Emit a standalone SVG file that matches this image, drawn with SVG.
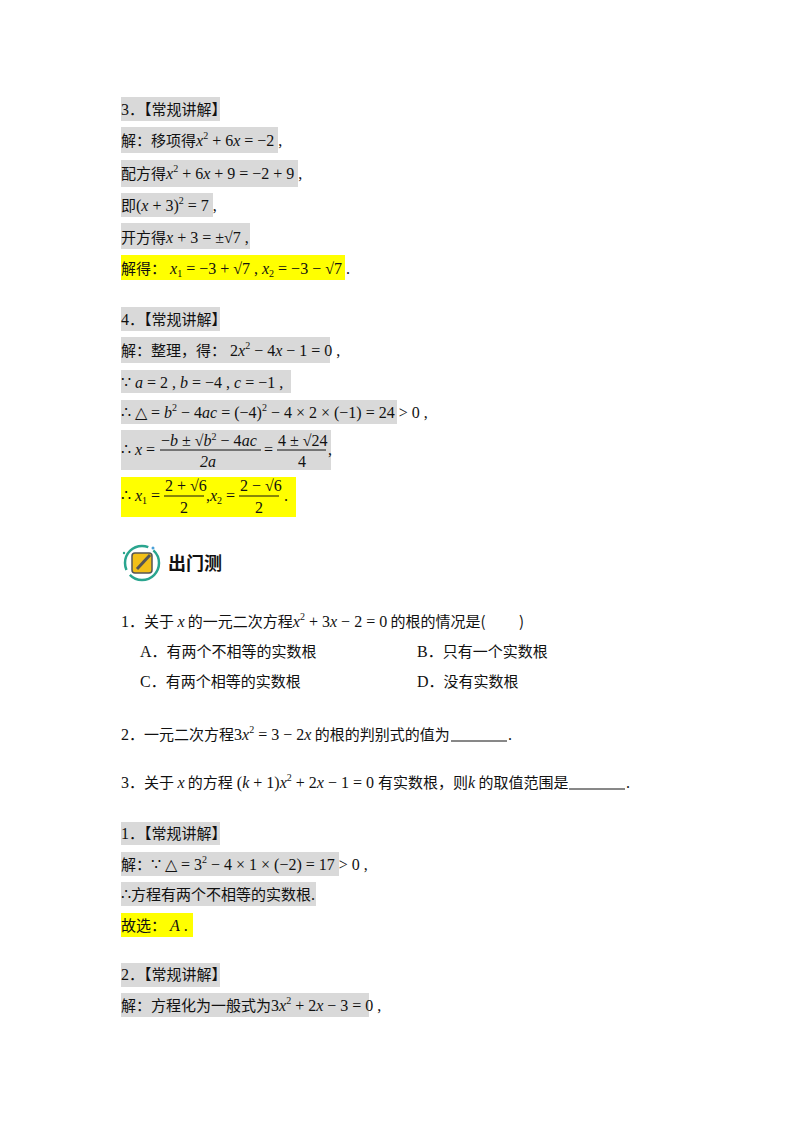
<svg xmlns="http://www.w3.org/2000/svg" width="800" height="1132" viewBox="0 0 800 1132">
<style>
.g{fill:#d9d9d9}.y{fill:#ffff00}
text{font-family:"Noto Sans CJK SC","Noto Sans",sans-serif;font-size:15px;fill:#111}
.m{font-family:"Liberation Serif",serif;font-size:16px}
.i{font-style:italic}
.s{font-size:10px}
.h{font-weight:bold;font-size:18px}
.u{stroke:#111;stroke-width:1}
</style>
<rect width="800" height="1132" fill="#fff"/>
<g id="sol3">
<rect class="g" x="121" y="97" width="99" height="24"/>
<rect class="g" x="121" y="127" width="157" height="26"/>
<rect class="g" x="121" y="160" width="177" height="27"/>
<rect class="g" x="121" y="193" width="92" height="24"/>
<rect class="g" x="121" y="223" width="129" height="26"/>
<rect class="y" x="121" y="255" width="224" height="25"/>
<text x="121" y="115"><tspan class="m">3</tspan>．【常规讲解】</text>
<text x="121" y="146">解：移项得<tspan class="m"><tspan class="i">x</tspan><tspan class="s" dy="-7">2</tspan><tspan dy="7"> + 6</tspan><tspan class="i">x</tspan> = −2 ,</tspan></text>
<text x="121" y="179">配方得<tspan class="m"><tspan class="i">x</tspan><tspan class="s" dy="-7">2</tspan><tspan dy="7"> + 6</tspan><tspan class="i">x</tspan> + 9 = −2 + 9 ,</tspan></text>
<text x="121" y="211">即<tspan class="m">(<tspan class="i">x</tspan> + 3)<tspan class="s" dy="-7">2</tspan><tspan dy="7"> = 7 ,</tspan></tspan></text>
<text x="121" y="243">开方得<tspan class="m"><tspan class="i">x</tspan> + 3 = ±√7 ,</tspan></text>
<text x="121" y="274">解得：<tspan class="m"> <tspan class="i">x</tspan><tspan class="s" dy="3">1</tspan><tspan dy="-3"> = −3 + √7 ,  </tspan><tspan class="i">x</tspan><tspan class="s" dy="3">2</tspan><tspan dy="-3"> = −3 − √7 .</tspan></tspan></text>
</g>
<g id="sol4">
<rect class="g" x="121" y="307" width="99" height="24"/>
<rect class="g" x="121" y="337" width="209" height="26"/>
<rect class="g" x="121" y="370" width="170" height="23"/>
<rect class="g" x="121" y="400" width="276" height="24"/>
<rect class="g" x="121" y="430" width="210" height="40"/>
<rect class="y" x="121" y="477" width="175" height="40"/>
<text x="121" y="325"><tspan class="m">4</tspan>．【常规讲解】</text>
<text x="121" y="356">解：整理，得：<tspan class="m"> 2<tspan class="i">x</tspan><tspan class="s" dy="-7">2</tspan><tspan dy="7"> − 4</tspan><tspan class="i">x</tspan> − 1 = 0 ,</tspan></text>
<text class="m" x="121" y="388">∵ <tspan class="i">a</tspan> = 2 ,  <tspan class="i">b</tspan> = −4 ,  <tspan class="i">c</tspan> = −1 ,</text>
<text class="m" x="121" y="418">∴ △ = <tspan class="i">b</tspan><tspan class="s" dy="-7">2</tspan><tspan dy="7"> − 4</tspan><tspan class="i">ac</tspan> = (−4)<tspan class="s" dy="-7">2</tspan><tspan dy="7"> − 4 × 2 × (−1) = 24 &gt; 0 ,</tspan></text>
<text class="m" x="121" y="455">∴ <tspan class="i">x</tspan> =</text>
<text class="m" x="161" y="446">−<tspan class="i">b</tspan> ± √<tspan class="i">b</tspan><tspan class="s" dy="-6">2</tspan><tspan dy="6"> − 4</tspan><tspan class="i">ac</tspan></text>
<line x1="160" y1="450" x2="261" y2="450" stroke="#111"/>
<text class="m i" x="200" y="467">2a</text>
<text class="m" x="264" y="455">=</text>
<text class="m" x="278" y="446">4 ± √24</text>
<line x1="277" y1="450" x2="326" y2="450" stroke="#111"/>
<text class="m" x="298" y="467">4</text>
<text class="m" x="328" y="455">,</text>
<text class="m" x="121" y="501">∴ <tspan class="i">x</tspan><tspan class="s" dy="3">1</tspan><tspan dy="-3"> =</tspan></text>
<text class="m" x="165" y="491">2 + √6</text>
<line x1="164" y1="496" x2="204" y2="496" stroke="#111"/>
<text class="m" x="180" y="513">2</text>
<text class="m" x="206" y="501">,<tspan class="i">x</tspan><tspan class="s" dy="3">2</tspan><tspan dy="-3"> =</tspan></text>
<text class="m" x="240" y="491">2 − √6</text>
<line x1="239" y1="496" x2="279" y2="496" stroke="#111"/>
<text class="m" x="255" y="513">2</text>
<text class="m" x="284" y="501">.</text>
</g>
<g id="header">
<circle cx="142" cy="563" r="17" fill="none" stroke="#2aa58f" stroke-width="2.5" stroke-dasharray="40 6"/>
<rect x="132" y="553" width="20" height="20" rx="3" fill="#f2c018" stroke="#555" stroke-width="1.5"/>
<line x1="137" y1="569" x2="150" y2="555" stroke="#555" stroke-width="3"/>
<circle cx="153" cy="548" r="1.5" fill="#4aa0d8"/>
<circle cx="124" cy="553" r="1.2" fill="#2aa58f"/>
<circle cx="159" cy="565" r="1" fill="#2aa58f"/>
<text class="h" x="168" y="570">出门测</text>
</g>
<g id="questions">
<text x="121" y="627"><tspan class="m">1</tspan>．关于 <tspan class="m i">x</tspan> 的一元二次方程<tspan class="m"><tspan class="i">x</tspan><tspan class="s" dy="-7">2</tspan><tspan dy="7"> + 3</tspan><tspan class="i">x</tspan> − 2 = 0</tspan> 的根的情况是(　　 )</text>
<text x="140" y="657"><tspan class="m">A</tspan>．有两个不相等的实数根</text>
<text x="417" y="657"><tspan class="m">B</tspan>．只有一个实数根</text>
<text x="140" y="687"><tspan class="m">C</tspan>．有两个相等的实数根</text>
<text x="417" y="687"><tspan class="m">D</tspan>．没有实数根</text>
<text x="121" y="740"><tspan class="m">2</tspan>．一元二次方程<tspan class="m">3<tspan class="i">x</tspan><tspan class="s" dy="-7">2</tspan><tspan dy="7"> = 3 − 2</tspan><tspan class="i">x</tspan></tspan> 的根的判别式的值为</text>
<line class="u" x1="451" y1="741" x2="507" y2="741"/>
<text class="m" x="508" y="740">.</text>
<text x="121" y="788"><tspan class="m">3</tspan>．关于 <tspan class="m i">x</tspan> 的方程<tspan class="m"> (<tspan class="i">k</tspan> + 1)<tspan class="i">x</tspan><tspan class="s" dy="-7">2</tspan><tspan dy="7"> + 2</tspan><tspan class="i">x</tspan> − 1 = 0 </tspan>有实数根，则<tspan class="m i">k</tspan> 的取值范围是</text>
<line class="u" x1="569" y1="789" x2="625" y2="789"/>
<text class="m" x="626" y="788">.</text>
</g>
<g id="answers">
<rect class="g" x="121" y="822" width="99" height="23"/>
<rect class="g" x="121" y="852" width="218" height="24"/>
<rect class="g" x="121" y="882" width="195" height="24"/>
<rect class="y" x="121" y="913" width="72" height="24"/>
<rect class="g" x="121" y="963" width="99" height="24"/>
<rect class="g" x="121" y="993" width="248" height="24"/>
<text x="121" y="839"><tspan class="m">1</tspan>．【常规讲解】</text>
<text x="121" y="870">解：<tspan class="m">∵ △ = 3<tspan class="s" dy="-7">2</tspan><tspan dy="7"> − 4 × 1 × (−2) = 17 &gt; 0 ,</tspan></tspan></text>
<text x="121" y="900"><tspan class="m">∴</tspan>方程有两个不相等的实数根<tspan class="m">.</tspan></text>
<text x="121" y="931">故选：<tspan class="m"> <tspan class="i">A</tspan> .</tspan></text>
<text x="121" y="980"><tspan class="m">2</tspan>．【常规讲解】</text>
<text x="121" y="1011">解：方程化为一般式为<tspan class="m">3<tspan class="i">x</tspan><tspan class="s" dy="-7">2</tspan><tspan dy="7"> + 2</tspan><tspan class="i">x</tspan> − 3 = 0 ,</tspan></text>
</g>
</svg>
